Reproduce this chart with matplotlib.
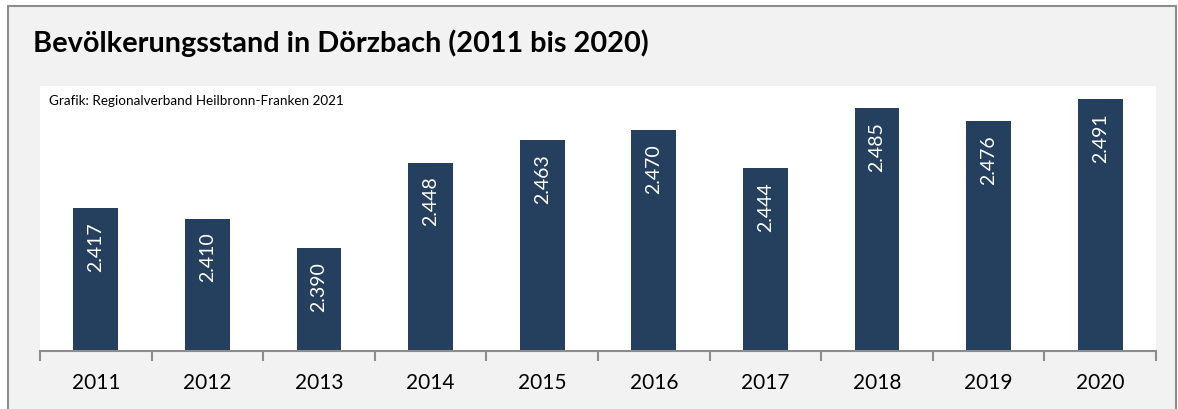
import matplotlib.pyplot as plt
from matplotlib.patches import Rectangle

# data
jahre = ['2011', '2012', '2013', '2014', '2015', '2016', '2017', '2018', '2019', '2020']
einwohner = [2417, 2410, 2390, 2448, 2463, 2470, 2444, 2485, 2476, 2491]

plt.rcParams['font.family'] = ['Lato', 'DejaVu Sans']

fig = plt.figure(figsize=(11.78, 4.09), dpi=100)
fig.patch.set_facecolor('white')

# grauer Rahmen
rahmen = Rectangle((8 / 1178, -0.01), 1 - 10 / 1178, 1 - 6 / 409 + 0.01,
                   transform=fig.transFigure, facecolor='#f2f2f2',
                   edgecolor='#8c8c8c', linewidth=1.5, zorder=-5)
fig.add_artist(rahmen)

ax = fig.add_axes([40 / 1178, 1 - 351 / 409, (1156 - 40) / 1178, (351 - 86) / 409])
ax.set_facecolor('white')

x = range(len(jahre))
ax.bar(x, einwohner, width=0.4, color='#253f5f', zorder=2)

for xi, v in zip(x, einwohner):
    ax.annotate(f'{v:,}'.replace(',', '.'), (xi, v), xytext=(0, -14),
                textcoords='offset pixels', rotation=90, ha='center', va='top',
                color='white', fontsize=14)

ax.set_ylim(2320, 2500)
ax.set_xlim(-0.5, len(jahre) - 0.5)
ax.set_yticks([])
ax.set_xticks(list(x))
ax.set_xticklabels(jahre, fontsize=15)
ax.set_xticks([i - 0.5 for i in range(len(jahre) + 1)], minor=True)
ax.tick_params(axis='x', which='major', length=0, pad=16)
ax.tick_params(axis='x', which='minor', length=7, width=1.5, color='#8c8c8c')

for s in ['top', 'left', 'right']:
    ax.spines[s].set_visible(False)
ax.spines['bottom'].set_color('#8c8c8c')
ax.spines['bottom'].set_linewidth(1.5)

fig.text(33 / 1178, 1 - 43 / 409, 'Bevölkerungsstand in Dörzbach (2011 bis 2020)',
         fontsize=20.8, fontweight='bold', va='center', ha='left')
fig.text(49 / 1178, 1 - 101 / 409, 'Grafik: Regionalverband Heilbronn-Franken 2021',
         fontsize=9.7, va='center', ha='left', zorder=5)

fig.savefig('out.png', dpi=100)
